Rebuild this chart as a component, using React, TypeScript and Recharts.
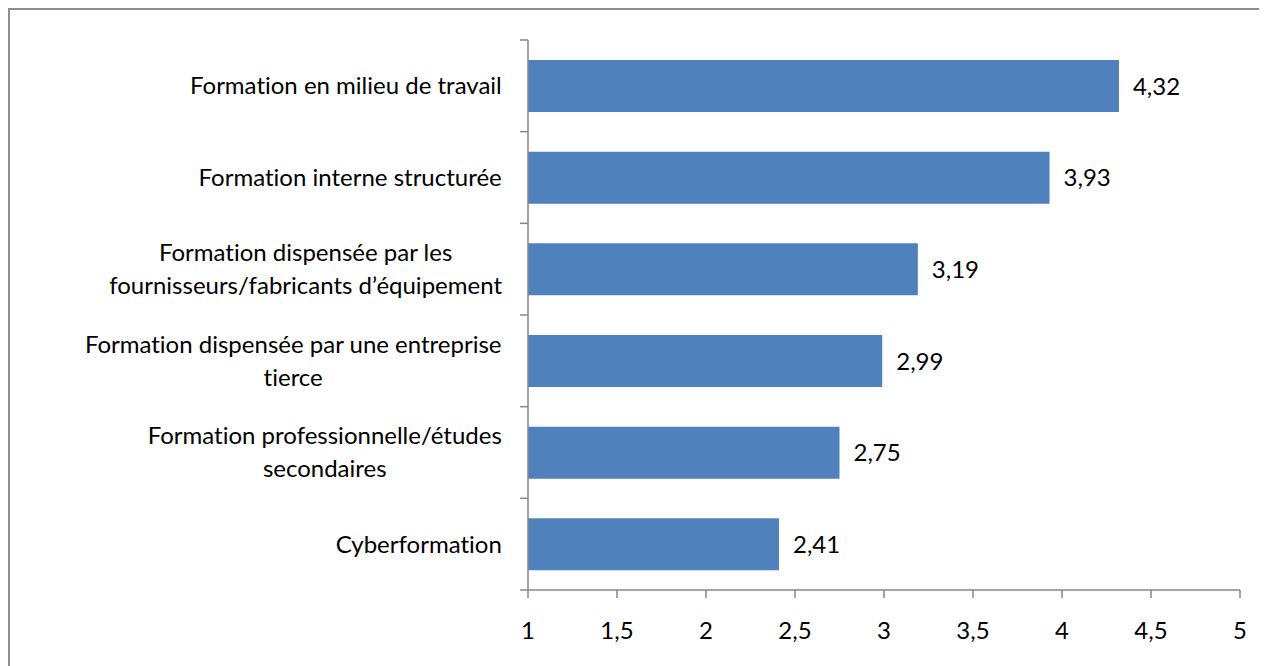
import React from "react";
import { BarChart, Bar, XAxis, YAxis, LabelList } from "recharts";

const categories = [
  "Formation en milieu de travail",
  "Formation interne structurée",
  "Formation dispensée par les\nfournisseurs/fabricants d’équipement",
  "Formation dispensée par une entreprise\ntierce",
  "Formation professionnelle/études\nsecondaires",
  "Cyberformation",
];
const scores = [4.32, 3.93, 3.19, 2.99, 2.75, 2.41];
const xTicks = [1, 1.5, 2, 2.5, 3, 3.5, 4, 4.5, 5];

const data = categories.map((name, i) => ({ name, score: scores[i] }));

const FONT = "Lato";
const FONT_SIZE = 24;
const AXIS = "#868686";

const W = 1260;
const H = 660;
const M = { top: 30, right: 30, bottom: 20, left: 0 };
const X_AXIS_H = 60;
const BAND = (H - M.top - M.bottom - X_AXIS_H) / categories.length;

const comma = (v: number, d?: number) =>
  (d === undefined ? String(v) : v.toFixed(d)).replace(".", ",");

let ctx: CanvasRenderingContext2D | null = null;
function measure(t: string) {
  if (!ctx) ctx = document.createElement("canvas").getContext("2d");
  if (!ctx) return t.length * FONT_SIZE * 0.5;
  ctx.font = `${FONT_SIZE}px ${FONT}`;
  return ctx.measureText(t).width;
}

// category label, lines centred inside a right-aligned block,
// plus the tick marks that Excel draws between categories
function CategoryTick(props: any) {
  const { x, y, payload, index } = props;
  const axisX = x + 26;
  const lines: string[] = String(payload.value).split("\n");
  const w = Math.max(...lines.map(measure));
  const lh = 33;
  const y0 = y - ((lines.length - 1) * lh) / 2;
  return (
    <g>
      <line x1={axisX - 8} x2={axisX} y1={y - BAND / 2} y2={y - BAND / 2} stroke={AXIS} strokeWidth={1.5} />
      {index === categories.length - 1 && (
        <line x1={axisX - 8} x2={axisX} y1={y + BAND / 2} y2={y + BAND / 2} stroke={AXIS} strokeWidth={1.5} />
      )}
      {lines.map((l, i) => (
        <text
          key={i}
          x={x - w / 2}
          y={y0 + i * lh}
          dy="0.35em"
          textAnchor="middle"
          fill="#000"
          fontSize={FONT_SIZE}
          fontFamily={FONT}
          style={{ fontVariantLigatures: "none" }}
        >
          {l}
        </text>
      ))}
    </g>
  );
}

export default function App() {
  return (
    <div
      style={{
        width: W + 2,
        height: H + 2,
        borderLeft: "2px solid #8e8e8e",
        borderTop: "2px solid #8e8e8e",
        fontFamily: FONT,
      }}
    >
      <BarChart
        width={W}
        height={H}
        data={data}
        layout="vertical"
        margin={M}
      >
        <XAxis
          type="number"
          domain={[1, 5]}
          ticks={xTicks}
          allowDataOverflow
          height={X_AXIS_H}
          tickSize={8}
          tickMargin={24}
          stroke={AXIS}
          strokeWidth={1.5}
          tick={{ fill: "#000", fontSize: FONT_SIZE, fontFamily: FONT }}
          tickFormatter={(v: number) => comma(v)}
        />
        <YAxis
          type="category"
          dataKey="name"
          width={518}
          stroke={AXIS}
          strokeWidth={1.5}
          tickLine={false}
          tickSize={0}
          tickMargin={26}
          interval={0}
          tick={<CategoryTick />}
        />
        <Bar dataKey="score" fill="#4F81BD" barSize={52} isAnimationActive={false}>
          <LabelList
            dataKey="score"
            position="right"
            offset={14}
            fill="#000"
            fontSize={FONT_SIZE}
            fontFamily={FONT}
            formatter={(v: any) => comma(Number(v), 2)}
          />
        </Bar>
      </BarChart>
    </div>
  );
}
